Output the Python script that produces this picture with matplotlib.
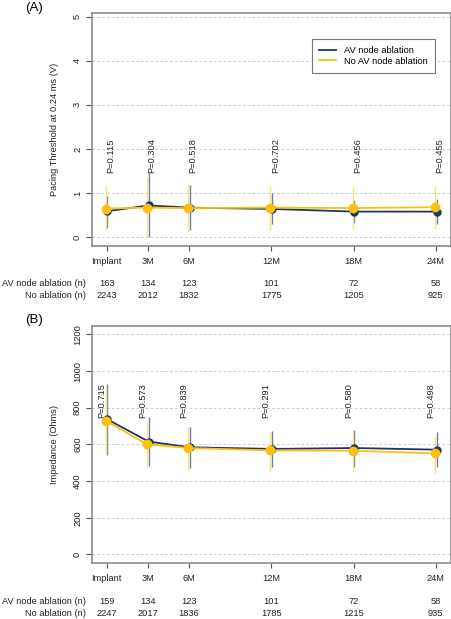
import matplotlib
matplotlib.use('Agg')
import matplotlib.pyplot as plt
import numpy as np

plt.rcParams['font.family'] = ['Liberation Sans', 'DejaVu Sans']

# Timepoints (months) and labels
months = [0, 3, 6, 12, 18, 24]
time_labels = ['Implant', '3M', '6M', '12M', '18M', '24M']

# Panel A: pacing threshold (V)
thr_av = [0.59, 0.72, 0.67, 0.64, 0.58, 0.58]
thr_av_lo = [0.21, 0.0, 0.16, 0.29, 0.33, 0.30]
thr_av_hi = [0.93, 1.45, 1.18, 1.00, 0.84, 0.87]
thr_no = [0.65, 0.67, 0.66, 0.67, 0.66, 0.68]
thr_no_lo = [0.16, 0.0, 0.11, 0.16, 0.19, 0.19]
thr_no_hi = [1.17, 1.36, 1.20, 1.17, 1.13, 1.17]
thr_p = ['P=0.115', 'P=0.304', 'P=0.518', 'P=0.702', 'P=0.456', 'P=0.455']
thr_n_av = ['163', '134', '123', '101', '72', '58']
thr_n_no = ['2243', '2012', '1832', '1775', '1205', '925']

# Panel B: impedance (Ohms)
imp_av = [736, 615, 584, 575, 580, 571]
imp_av_lo = [542, 482, 473, 478, 478, 475]
imp_av_hi = [927, 747, 696, 673, 678, 667]
imp_no = [729, 600, 580, 567, 565, 551]
imp_no_lo = [545, 478, 460, 451, 451, 438]
imp_no_hi = [910, 718, 693, 669, 660, 642]
imp_p = ['P=0.715', 'P=0.573', 'P=0.839', 'P=0.291', 'P=0.580', 'P=0.498']
imp_n_av = ['159', '134', '123', '101', '72', '58']
imp_n_no = ['2247', '2017', '1836', '1785', '1215', '935']

NAVY = '#1c3766'
NAVY_BAR = '#6a7fa8'
GOLD = '#fdc010'
GOLD_BAR = '#fde27a'
FS = 6.7

fig = plt.figure(figsize=(4.52, 6.19), dpi=100)
ax_a = fig.add_axes([0.2035, 0.6026, 0.794, 0.376])
ax_b = fig.add_axes([0.2035, 0.0905, 0.794, 0.3833])


def draw_panel(ax, av, av_lo, av_hi, no, no_lo, no_hi, pvals, p_y, p_dx,
               n_av, n_no, yticks, ylim, ylabel):
    x = np.array(months, dtype=float)
    xa = x + 0.06
    xn = x - 0.06
    av = np.array(av)
    no = np.array(no)
    for yt in yticks:
        ax.axhline(yt, color='#c8c8c8', lw=0.7, ls=(0, (2.5, 2.5)), zorder=0)
    ax.vlines(xa, av_lo, av_hi, color=NAVY_BAR, lw=1.0, zorder=2)
    ax.vlines(xn, no_lo, no_hi, color=GOLD_BAR, lw=1.0, zorder=2)
    ax.plot(xa, av, color=NAVY, lw=1.3, marker='o', ms=5, zorder=3,
            label='AV node ablation')
    ax.plot(xn, no, color=GOLD, lw=1.3, marker='o', ms=6, zorder=4,
            label='No AV node ablation')
    for xi, p in zip(x, pvals):
        ax.text(xi + p_dx, p_y, p, rotation=90, ha='center', va='bottom',
                fontsize=FS, color='#222222')
    ax.set_xlim(-1.07, 25.1)
    ax.set_ylim(*ylim)
    ax.set_xticks(months)
    ax.set_xticklabels(time_labels)
    ax.set_yticks(yticks)
    ax.set_yticklabels([str(v) for v in yticks], rotation=90, va='center')
    ax.tick_params(axis='both', labelsize=FS, color='#555555', width=0.8,
                   labelcolor='#222222')
    ax.tick_params(axis='x', length=3.6, pad=4.5)
    ax.tick_params(axis='y', length=4.3, pad=2.8)
    for s in ax.spines.values():
        s.set_color('#8c8c8c')
        s.set_linewidth(1.2)
    ax.set_ylabel(ylabel, fontsize=FS, color='#222222')
    ax.yaxis.set_label_coords(-0.093, 0.5)
    trans = ax.get_xaxis_transform()
    ax.text(-0.017, -0.163, 'AV node ablation (n)', transform=ax.transAxes,
            ha='right', va='center', fontsize=FS, color='#222222')
    ax.text(-0.017, -0.211, 'No ablation (n)', transform=ax.transAxes,
            ha='right', va='center', fontsize=FS, color='#222222')
    for xi, a, b in zip(x, n_av, n_no):
        ax.text(xi, -0.163, a, transform=trans, ha='center', va='center',
                fontsize=FS, color='#222222')
        ax.text(xi, -0.211, b, transform=trans, ha='center', va='center',
                fontsize=FS, color='#222222')


draw_panel(ax_a, thr_av, thr_av_lo, thr_av_hi, thr_no, thr_no_lo, thr_no_hi,
           thr_p, 1.45, 0.3, thr_n_av, thr_n_no, [0, 1, 2, 3, 4, 5],
           (-0.2, 5.08), 'Pacing Threshold at 0.24 ms (V)')
draw_panel(ax_b, imp_av, imp_av_lo, imp_av_hi, imp_no, imp_no_lo, imp_no_hi,
           imp_p, 742, -0.37, imp_n_av, imp_n_no,
           [0, 200, 400, 600, 800, 1000, 1200], (-47, 1247), 'Impedance (Ohms)')

leg = ax_a.legend(loc='upper right', bbox_to_anchor=(0.955, 0.89),
                  borderaxespad=0, fontsize=FS, frameon=True, fancybox=False,
                  handlelength=1.8, handletextpad=0.9, labelspacing=0.2,
                  borderpad=0.75)
for h in leg.get_lines():
    h.set_marker('')
leg.get_frame().set_edgecolor('#555555')
leg.get_frame().set_linewidth(0.8)

fig.text(34 / 452, 1 - 8 / 619, '(A)', ha='center', va='center', fontsize=9.5)
fig.text(34 / 452, 1 - 320 / 619, '(B)', ha='center', va='center', fontsize=9.5)

fig.savefig('out.png', dpi=100)
